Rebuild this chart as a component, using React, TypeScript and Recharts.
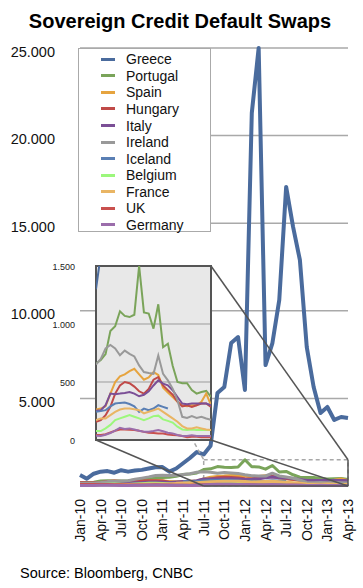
import { LineChart, Line, XAxis, YAxis, CartesianGrid, ReferenceArea } from 'recharts';

const FONT = '"Liberation Sans", Arial, Helvetica, sans-serif';

// quarter labels on the x axis (data is monthly, Jan-10 .. Apr-13)
const quarterLabels = [
  'Jan-10', 'Apr-10', 'Jul-10', 'Oct-10', 'Jan-11', 'Apr-11', 'Jul-11',
  'Oct-11', 'Jan-12', 'Apr-12', 'Jul-12', 'Oct-12', 'Jan-13', 'Apr-13',
];
const monthTicks = quarterLabels.map((_, i) => i * 3);
const mainTicks = [5000, 10000, 15000, 20000, 25000];
const insetTicks = [0, 500, 1000, 1500];

// CDS spreads, bp, monthly
const greece = [630, 420, 700, 820, 850, 760, 900, 820, 880, 920, 1000, 1070, 1080, 820, 1000, 1300, 1600, 1940, 1800, 2300, 5310, 5650, 8160, 8500, 5480, 21290, 25000, 6900, 8160, 10620, 17070, 14800, 12900, 7930, 5650, 4170, 4510, 3770, 3940, 3880];
const portugal = [200, 200, 220, 280, 300, 280, 290, 300, 340, 380, 400, 450, 480, 500, 550, 660, 690, 740, 940, 980, 1110, 1070, 1060, 1080, 1500, 1100, 1090, 960, 1170, 800, 830, 640, 500, 490, 490, 430, 400, 414, 423, 371];
const spain = [110, 110, 130, 170, 210, 250, 220, 200, 220, 250, 280, 320, 300, 250, 240, 263, 271, 290, 400, 500, 549, 566, 594, 614, 566, 520, 540, 586, 560, 450, 410, 370, 330, 300, 291, 300, 300, 329, 400, 300];
const hungary = [200, 190, 180, 200, 260, 280, 250, 240, 260, 280, 300, 300, 280, 220, 170, 157, 171, 214, 286, 400, 470, 500, 490, 460, 420, 400, 440, 520, 543, 470, 430, 390, 330, 290, 300, 286, 300, 314, 315, 286];
const italy = [100, 100, 120, 150, 180, 200, 180, 170, 190, 200, 220, 230, 220, 200, 230, 251, 257, 300, 400, 395, 400, 406, 414, 400, 377, 390, 420, 470, 514, 486, 471, 429, 371, 314, 309, 314, 314, 314, 314, 300];
const ireland = [150, 150, 160, 200, 250, 260, 280, 300, 380, 450, 520, 600, 620, 600, 610, 650, 700, 790, 820, 790, 730, 771, 743, 720, 643, 586, 577, 571, 729, 570, 514, 443, 343, 200, 190, 206, 190, 200, 186, 175];
const iceland = [null, null, null, null, null, null, null, null, null, null, null, null, null, null, null, 243, 249, 257, 290, 314, 320, 323, 310, 290, 243, 271, 257, 271, 300, 286, 271, null, null, null, null, null, null, null, null, null];
const belgium = [50, 50, 60, 80, 100, 110, 100, 90, 110, 130, 150, 160, 140, 110, 85, 77, 77, 100, 130, 171, 186, 200, 214, 200, 186, 171, 186, 206, 210, 178, 165, 150, 115, 91, 86, 91, 86, 86, 86, 86];
const france = [60, 60, 70, 80, 90, 90, 90, 80, 90, 100, 110, 120, 110, 120, 150, 171, 186, 186, 215, 243, 263, 271, 271, 265, 257, 229, 243, 257, 271, 243, 214, 186, 157, 120, 100, 100, 109, 100, 91, 86];
const uk = [80, 80, 80, 85, 80, 75, 70, 60, 60, 60, 60, 70, 60, 50, 45, 43, 43, 50, 65, 80, 91, 91, 88, 86, 80, 70, 63, 60, 57, 55, 48, 43, 40, 34, 23, 29, 29, 23, 23, 23];
const germany = [30, 30, 35, 40, 45, 40, 35, 35, 40, 45, 50, 55, 50, 45, 40, 37, 34, 45, 60, 80, 106, 95, 100, 90, 80, 71, 71, 77, 86, 75, 63, 57, 43, 34, 34, 40, 34, 34, 34, 34];

const SERIES = [
  { key: 'Greece', color: '#4a6b9d', values: greece },
  { key: 'Portugal', color: '#7aa45a', values: portugal },
  { key: 'Spain', color: '#e6a43f', values: spain },
  { key: 'Hungary', color: '#c04a48', values: hungary },
  { key: 'Italy', color: '#7b4f96', values: italy },
  { key: 'Ireland', color: '#999999', values: ireland },
  { key: 'Iceland', color: '#5a7fb4', values: iceland },
  { key: 'Belgium', color: '#9cf77c', values: belgium },
  { key: 'France', color: '#e9b564', values: france },
  { key: 'UK', color: '#c9504e', values: uk },
  { key: 'Germany', color: '#9b6dab', values: germany },
];

const rows = greece.map((_, m) => {
  const row: Record<string, number | null> = { m };
  SERIES.forEach((s) => (row[s.key] = s.values[m]));
  return row;
});

// zoomed window shown in the inset
const INSET_FROM = 15;
const ZOOM_FROM = 18;
const ZOOM_TO = 39;
const ZOOM_MAX = 1500;
const insetRows = rows.filter((r) => (r.m as number) >= INSET_FROM);

// layout
const W = 363;
const H = 588;
const PLOT_L = 80;
const PLOT_R = 348;
const PLOT_T = 48;
const PLOT_B = 486;
const INSET_L = 96;
const INSET_T = 266;
const INSET_W = 115;
const INSET_H = 174;
const INSET_AXIS_W = 60;

const px = (m: number) => PLOT_L + (m / 39) * (PLOT_R - PLOT_L);
const py = (v: number) => PLOT_B - (v / 25000) * (PLOT_B - PLOT_T);

function dots(v: number) {
  return String(v).replace(/\B(?=(\d{3})+(?!\d))/g, '.');
}

const XTick = ({ x, y, payload }: any) => (
  <text
    x={x}
    y={y}
    transform={`rotate(-90 ${x} ${y})`}
    textAnchor="end"
    dominantBaseline="central"
    fontSize={14}
    fontFamily={FONT}
    fill="#111"
  >
    {quarterLabels[payload.value / 3]}
  </text>
);

const YTick = ({ x, y, payload }: any) => (
  <text x={x} y={y + 3.5} textAnchor="end" dominantBaseline="central" fontSize={14.5} fontFamily={FONT} fill="#111">
    {dots(payload.value)}
  </text>
);

const InsetTick = ({ x, y, payload }: any) => (
  <text x={x} y={y + 1} textAnchor="end" dominantBaseline="central" fontSize={9} fontFamily={FONT} fill="#222">
    {dots(payload.value)}
  </text>
);

export default function App() {
  const boxL = px(ZOOM_FROM);
  const boxR = px(ZOOM_TO);
  const boxT = py(ZOOM_MAX);
  const boxB = py(0);
  const insetR = INSET_L + INSET_W;
  const insetB = INSET_T + INSET_H;

  return (
    <div style={{ position: 'absolute', left: 0, top: 0, width: W, height: H, background: '#fff', fontFamily: FONT }}>
      <LineChart width={W} height={H} data={rows} margin={{ top: PLOT_T, right: W - PLOT_R, bottom: 42, left: 0 }}>
        <CartesianGrid vertical={false} stroke="#a9a9a9" strokeWidth={1.5} />
        <XAxis
          type="number"
          dataKey="m"
          domain={[0, 39]}
          ticks={monthTicks}
          interval={0}
          height={60}
          axisLine={false}
          tickLine={false}
          tickSize={0}
          tickMargin={13}
          tick={<XTick />}
        />
        <YAxis
          domain={[0, 25000]}
          ticks={mainTicks}
          width={PLOT_L}
          axisLine={false}
          tickLine={false}
          tickSize={0}
          tickMargin={25}
          tick={<YTick />}
        />
        <ReferenceArea
          x1={ZOOM_FROM}
          x2={ZOOM_TO}
          y1={0}
          y2={ZOOM_MAX}
          fill="none"
          stroke="#a8a8a8"
          strokeWidth={1.5}
          strokeDasharray="4 3"
        />
        {SERIES.map((s) => (
          <Line
            key={s.key}
            type="linear"
            dataKey={s.key}
            stroke={s.color}
            strokeWidth={s.key === 'Greece' ? 4 : 3}
            strokeLinejoin="round"
            dot={false}
            activeDot={false}
            isAnimationActive={false}
          />
        ))}
      </LineChart>

      {/* title, source, zoom connectors */}
      <svg width={W} height={H} style={{ position: 'absolute', left: 0, top: 0, pointerEvents: 'none' }}>
        <text x={180} y={28} textAnchor="middle" fontSize={20} fontWeight="bold" fontFamily={FONT} fill="#000">
          Sovereign Credit Default Swaps
        </text>
        <text x={20} y={578} fontSize={14.5} fontFamily={FONT} fill="#000">
          Source: Bloomberg, CNBC
        </text>
        <line x1={INSET_L} y1={INSET_T} x2={boxL} y2={boxT} stroke="#a8a8a8" strokeWidth={1.5} strokeDasharray="4 3" />
        <line x1={insetR} y1={INSET_T} x2={boxR} y2={boxT} stroke="#555" strokeWidth={1.5} />
        <line x1={insetR} y1={insetB} x2={boxR} y2={boxB} stroke="#555" strokeWidth={1.5} />
        <line x1={INSET_L} y1={insetB} x2={boxL} y2={boxB} stroke="#555" strokeWidth={1.5} />
        <line x1={boxR} y1={boxT} x2={boxR} y2={boxB} stroke="#555" strokeWidth={1.5} />
        <line x1={boxL} y1={boxB} x2={boxR} y2={boxB} stroke="#555" strokeWidth={1.5} />
      </svg>

      {/* legend */}
      <div
        style={{
          position: 'absolute',
          left: 78,
          top: 48,
          width: 133,
          height: 184,
          boxSizing: 'border-box',
          border: '1.5px solid #aaa',
          background: '#fff',
          paddingTop: 2,
        }}
      >
        {SERIES.map((s) => (
          <div key={s.key} style={{ display: 'flex', alignItems: 'center', height: 16.57, fontSize: 14, color: '#111' }}>
            <span style={{ display: 'inline-block', width: 14, height: 3, background: s.color, marginLeft: 22, marginRight: 11 }} />
            {s.key}
          </div>
        ))}
      </div>

      {/* inset: zoom on the smaller spreads, 0 - 1.500 */}
      <div style={{ position: 'absolute', left: INSET_L - INSET_AXIS_W, top: INSET_T - 10 }}>
        <LineChart
          width={INSET_AXIS_W + INSET_W + 10}
          height={INSET_H + 20}
          data={insetRows}
          margin={{ top: 10, right: 10, bottom: 10, left: 0 }}
        >
          <CartesianGrid vertical={false} fill="#e8e8e8" fillOpacity={1} stroke="#9b9b9b" strokeWidth={1} />
          <XAxis type="number" dataKey="m" domain={[INSET_FROM, ZOOM_TO]} hide allowDataOverflow />
          <YAxis
            domain={[0, ZOOM_MAX]}
            ticks={insetTicks}
            allowDataOverflow
            width={INSET_AXIS_W}
            axisLine={false}
            tickLine={false}
            tickSize={0}
            tickMargin={21}
            tick={<InsetTick />}
          />
          {SERIES.map((s) => (
            <Line
              key={s.key}
              type="linear"
              dataKey={s.key}
              stroke={s.color}
              strokeWidth={2}
              dot={false}
              activeDot={false}
              isAnimationActive={false}
            />
          ))}
          <ReferenceArea
            x1={INSET_FROM}
            x2={ZOOM_TO}
            y1={0}
            y2={ZOOM_MAX}
            fill="none"
            stroke="#555"
            strokeWidth={2}
            ifOverflow="visible"
          />
        </LineChart>
      </div>
    </div>
  );
}
